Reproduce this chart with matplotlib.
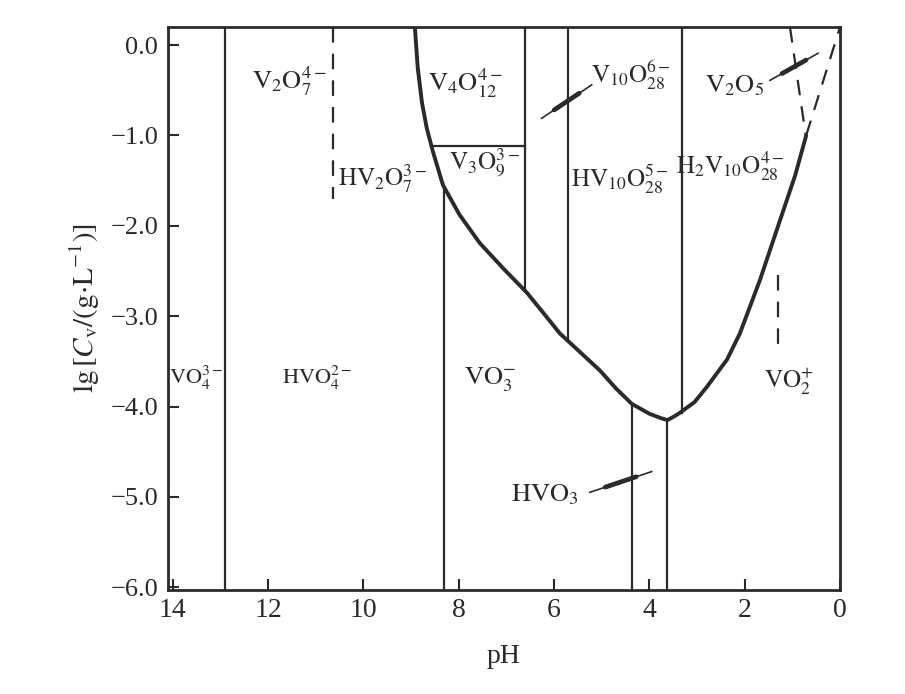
import matplotlib
matplotlib.use("Agg")
import matplotlib.pyplot as plt

# ---- data ----
boundary_ph = [8.92, 8.86, 8.77, 8.67, 8.54, 8.33, 7.98, 7.56, 7.05, 6.57, 6.20, 5.88, 5.45,
               5.04, 4.70, 4.37, 4.00, 3.75, 3.62, 3.48, 3.36, 3.05, 2.79, 2.37, 2.10,
               1.68, 1.26, 0.94, 0.71]
boundary_lg = [0.20, -0.25, -0.64, -0.92, -1.18, -1.55, -1.88, -2.19, -2.48, -2.74, -2.98, -3.19, -3.40,
               -3.60, -3.80, -3.97, -4.08, -4.13, -4.15, -4.11, -4.07, -3.95, -3.78, -3.48, -3.19,
               -2.60, -1.94, -1.44, -1.00]

# solid vertical boundaries: pH, bottom lg, top lg
vline_ph = [12.9, 8.3, 6.6, 5.7, 4.37, 3.62, 3.32]
vline_lo = [-6.03, -6.03, -2.72, -3.28, -6.03, -6.03, -4.07]
vline_hi = [0.20, -1.60, 0.20, 0.20, -3.97, -4.15, 0.20]

# dashed boundaries: (pH0, lg0, pH1, lg1)
dash_ph0 = [10.64, 1.30, 1.05, 0.71]
dash_lg0 = [0.20, -2.54, 0.20, -1.00]
dash_ph1 = [10.64, 1.30, 0.72, 0.00]
dash_lg1 = [-1.70, -3.41, -1.00, 0.20]

# horizontal boundary V4O12 / V3O9
hline_lg = -1.12
hline_ph = [8.56, 6.6]

# species labels
labels = [r'$\mathrm{V_2O_7^{4-}}$', r'$\mathrm{V_4O_{12}^{4-}}$', r'$\mathrm{V_{10}O_{28}^{6-}}$',
          r'$\mathrm{V_2O_5}$', r'$\mathrm{HV_2O_7^{3-}}$', r'$\mathrm{V_3O_9^{3-}}$',
          r'$\mathrm{HV_{10}O_{28}^{5-}}$', r'$\mathrm{H_2V_{10}O_{28}^{4-}}$',
          r'$\mathrm{VO_4^{3-}}$', r'$\mathrm{HVO_4^{2-}}$', r'$\mathrm{VO_3^{-}}$',
          r'$\mathrm{VO_2^{+}}$', r'$\mathrm{HVO_3}$']
label_ph = [11.55, 7.87, 4.38, 2.20, 9.60, 7.45, 4.62, 2.30, 13.52, 10.98, 7.35, 1.08, 6.20]
label_lg = [-0.40, -0.42, -0.33, -0.45, -1.48, -1.30, -1.48, -1.34, -3.68, -3.68, -3.70, -3.72, -4.98]
label_size = [19, 19, 18, 19, 18, 18, 18, 18, 16, 16, 19, 18, 19]

# leader lines: (pH0, lg0, pH1, lg1)
lead_ph0 = [6.26, 1.47, 5.25]
lead_lg0 = [-0.81, -0.39, -4.95]
lead_ph1 = [5.21, 0.46, 3.95]
lead_lg1 = [-0.44, -0.09, -4.72]

xticks = [14, 12, 10, 8, 6, 4, 2, 0]
yticks = [0.0, -1.0, -2.0, -3.0, -4.0, -5.0, -6.0]
ytick_labels = ['0.0', '\u22121.0', '\u22122.0', '\u22123.0', '\u22124.0', '\u22125.0', '\u22126.0']

# ---- figure ----
plt.rcParams['font.family'] = ['Liberation Serif', 'DejaVu Serif']
plt.rcParams['mathtext.fontset'] = 'stix'

ink = '#2a2a2a'
fig = plt.figure(figsize=(9.05, 6.94), dpi=100)
ax = fig.add_axes([0.1856, 0.150, 0.7426, 0.811])

ax.plot(boundary_ph, boundary_lg, color=ink, lw=2.8, solid_capstyle='round', solid_joinstyle='round')

for x, lo, hi in zip(vline_ph, vline_lo, vline_hi):
    ax.plot([x, x], [lo, hi], color=ink, lw=1.6)

for x0, y0, x1, y1 in zip(dash_ph0, dash_lg0, dash_ph1, dash_lg1):
    ax.plot([x0, x1], [y0, y1], color=ink, lw=1.6, dashes=(7, 5))

ax.plot(hline_ph, [hline_lg, hline_lg], color=ink, lw=1.6)

for x0, y0, x1, y1 in zip(lead_ph0, lead_lg0, lead_ph1, lead_lg1):
    ax.plot([x0, x1], [y0, y1], color=ink, lw=1.2)
    mx0 = x0 + 0.25 * (x1 - x0); my0 = y0 + 0.25 * (y1 - y0)
    mx1 = x0 + 0.75 * (x1 - x0); my1 = y0 + 0.75 * (y1 - y0)
    ax.plot([mx0, mx1], [my0, my1], color=ink, lw=3.4, solid_capstyle='round')

for t, x, y, fs in zip(labels, label_ph, label_lg, label_size):
    ax.text(x, y, t, ha='center', va='center', fontsize=fs, color=ink)

ax.set_xlim(14.1, 0)
ax.set_ylim(-6.03, 0.2)
ax.set_xticks(xticks)
ax.set_xticklabels([str(v) for v in xticks])
ax.set_yticks(yticks)
ax.set_yticklabels(ytick_labels)
ax.tick_params(direction='in', length=8, width=1.5, colors=ink)
ax.tick_params(axis='x', labelsize=20, pad=6)
ax.tick_params(axis='y', labelsize=19, pad=7)
for s in ax.spines.values():
    s.set_linewidth(2.0)
    s.set_color(ink)

ax.set_xlabel('pH', fontsize=20, color=ink, labelpad=15)
ax.set_ylabel(r'$\mathrm{lg}\,[C_{\mathrm{v}}/(\mathrm{g{\cdot}L^{-1}})]$', fontsize=21, color=ink, labelpad=6)

fig.savefig('out.png', dpi=100, facecolor='white')
